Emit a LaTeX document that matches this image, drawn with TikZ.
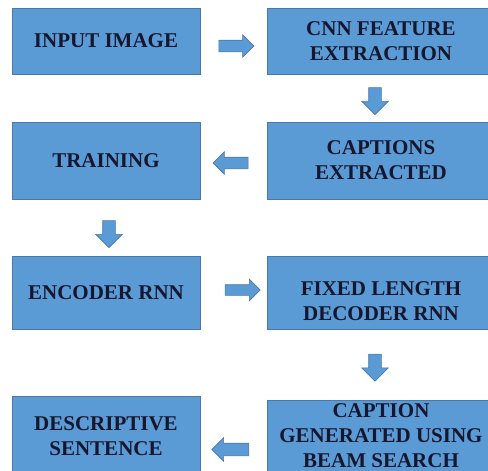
\documentclass[tikz,border=0pt]{standalone}
\usepackage{fontspec}
\setmainfont{Liberation Serif}
\usetikzlibrary{calc,shapes.arrows}

\definecolor{boxblue}{HTML}{5B9BD5}
\definecolor{boxedge}{HTML}{4A78A8}
\definecolor{inkblue}{HTML}{16172E}

\tikzset{
  box/.style={draw=boxedge, line width=0.8pt, fill=boxblue, inner sep=0pt,
    align=center, text=inkblue, font=\fontsize{21}{25}\selectfont\bfseries},
  harrow/.style={single arrow, draw=boxedge, line width=0.6pt, fill=boxblue,
    minimum height=35pt, inner sep=5.5pt, single arrow head extend=5.5pt},
  varrow/.style={single arrow, draw=boxedge, line width=0.6pt, fill=boxblue,
    minimum height=27pt, inner sep=6pt, single arrow head extend=7pt, rotate=-90}
}

\begin{document}
\begin{tikzpicture}[x=1pt,y=-1pt]
				\useasboundingbox (0,0) rectangle (488,471);
				\clip (0,0) rectangle (488,471);
				\fill[white] (0,0) rectangle (488,471);
				% boxes
				\node[box, minimum width=188pt, minimum height=66pt] (input) at (106,41) {INPUT IMAGE};
				\node[box, minimum width=228pt, minimum height=66pt] (cnn) at (381,41) {CNN FEATURE\\EXTRACTION};
				\node[box, minimum width=188pt, minimum height=77pt] (train) at (106,160.5) {TRAINING};
				\node[box, minimum width=228pt, minimum height=77pt] (capt) at (381,160.5) {CAPTIONS\\EXTRACTED};
				\node[box, minimum width=188pt, minimum height=73pt] (enc) at (106,292.5) {ENCODER RNN};
				\node[box, minimum width=228pt, minimum height=73pt] (dec) at (381,292.5) {};
				\node[box, draw=none, fill=none] (dectext) at ([yshift=-9pt]dec.center) {FIXED LENGTH\\DECODER RNN};
				\node[box, minimum width=188pt, minimum height=80pt] (desc) at (106,436) {DESCRIPTIVE\\SENTENCE};
				\node[box, minimum width=228pt, minimum height=72pt] (beam) at (381,436) {CAPTION\\GENERATED USING\\BEAM SEARCH};
				% arrows
				\node[harrow] (a1) at ([yshift=-5pt]$(input.east)!0.5!(cnn.west)$) {};
				\node[varrow] (a2) at ([xshift=-6pt]$(cnn.south)!0.5!(capt.north)$) {};
				\node[harrow, rotate=180] (a3) at ([yshift=-2.5pt]$(train.east)!0.5!(capt.west)$) {};
				\node[varrow] (a4) at ([xshift=3pt,yshift=-3.5pt]$(train.south)!0.5!(enc.north)$) {};
				\node[harrow, inner sep=5pt] (a5) at ([xshift=6.5pt,yshift=2.5pt]$(enc.east)!0.5!(dec.west)$) {};
				\node[varrow] (a6) at ([xshift=-6pt]$(dec.south)!0.5!(beam.north)$) {};
				\node[harrow, rotate=180, minimum height=37pt, inner sep=6pt] (a7) at ([yshift=-13.5pt]$(desc.east)!0.5!(beam.west)$) {};
			\end{tikzpicture}
\end{document}
